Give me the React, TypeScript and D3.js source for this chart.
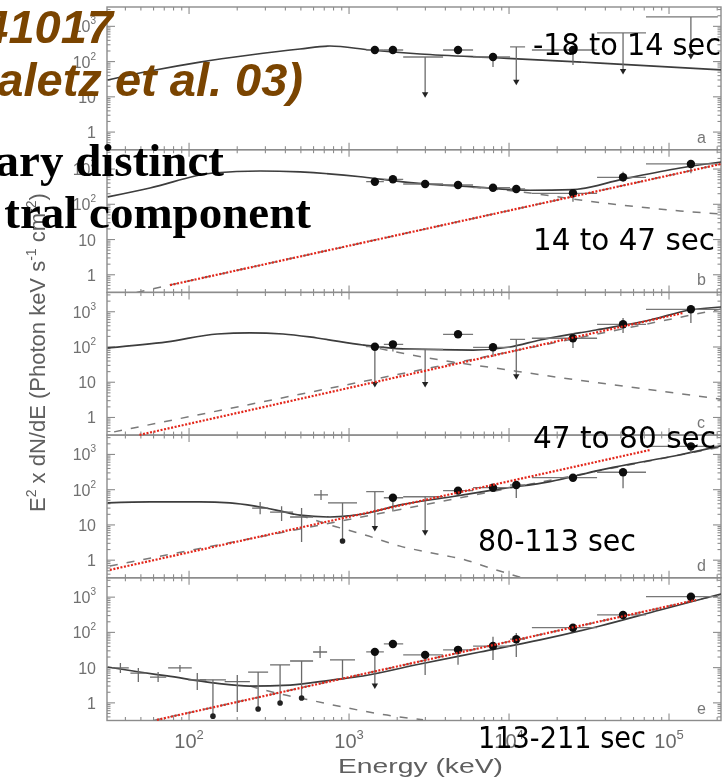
import React from "react";
import * as d3 from "d3";

type Pt = [number, number];

// Axis extents: photon energy (keV) across the frame, E^2 dN/dE from bottom to top of each panel
const energyDomain: Pt = [30.7, 211300];
const fluxDomain: Pt = [0.316, 3540];

const panelLetters = ["a", "b", "c", "d", "e"];
const intervalLabels = ["-18 to 14 sec", "14 to 47 sec", "47 to 80 sec", "80-113 sec", "113-211 sec"];

const energyTicks = [100, 1000, 10000, 100000];
const energyTickExp = ["2", "3", "4", "5"];
const fluxTicks = [1, 10, 100, 1000];
const fluxTickBase = ["1", "10", "10", "10"];
const fluxTickExp = ["", "", "2", "3"];

// TASC energy bins (keV)
const binLo = [1280, 1650, 2180, 3870, 5960, 10150, 13900, 35500, 71800];
const binHi = [1650, 2180, 3870, 5960, 10150, 12600, 35500, 71800, 202000];
const binMid = [1450, 1880, 2990, 4800, 7940, 11100, 25100, 51600, 137000];

// TASC points: [flux, lower, upper, kind]
// kind 0 = detection, 1 = upper limit (cap at flux), 2 = detection with open lower bound
const tascA = [
  [213, 180, 250, 0], [213, 180, 250, 0], [135, 11, 135, 1], [213, 180, 250, 0], [135, 70, 160, 0],
  [260, 25, 260, 1], [213, 80, 250, 0], [650, 51, 650, 1], [1850, 135, 1850, 1],
];
const tascB = [
  [438, 370, 510, 0], [512, 430, 600, 0], [377, 320, 440, 0], [353, 300, 410, 0], [296, 250, 350, 0],
  [272, 230, 320, 0], [205, 119, 240, 0], [584, 438, 841, 0], [1393, 759, 1807, 0],
];
const tascC = [
  [102, 8.4, 120, 2], [119, 75, 150, 0], [86, 8.4, 86, 1], [229, 195, 270, 0], [98, 53, 115, 0],
  [165, 13.8, 165, 1], [177, 94, 250, 0], [441, 250, 665, 0], [1175, 480, 1556, 0],
];
const tascD = [
  [88, 7.7, 88, 1], [59, 24, 70, 0], [63, 5.8, 63, 1], [94, 75, 115, 0], [114, 90, 135, 0],
  [136, 58, 160, 0], [219, 170, 260, 0], [312, 110, 405, 0], [1700, 1100, 2100, 0],
];
const tascE = [
  [28, 2.9, 34, 2], [47, 38, 56, 0], [23, 6.2, 28, 0], [32, 12, 38, 0], [41, 16.5, 75, 0],
  [64, 20, 96, 0], [136, 110, 165, 0], [312, 250, 380, 0], [1031, 800, 1250, 0],
];

// BATSE points: [eLo, eHi, flux, fluxLo, fluxHi, kind]
// kind 0 = cross, 1 = limit ending in a dot, 2 = limit without marker
const batseD = [
  [248, 312, 30, 20, 45, 0],
  [321, 447, 23, 12.9, 34, 0],
  [428, 596, 16.8, 3.3, 30, 0],
  [604, 739, 71, 51, 98, 0],
  [739, 1122, 42, 3.5, 42, 1],
];
const batseE = [
  [33, 42, 9.8, 7.0, 13.5, 0],
  [43, 54, 7.0, 3.9, 9.8, 0],
  [57, 72, 5.4, 3.9, 7.5, 0],
  [74, 104, 9.8, 7.5, 11.9, 0],
  [99, 128, 4.5, 2.3, 7.0, 0],
  [117, 170, 4.5, 0.42, 4.5, 1],
  [167, 240, 4.0, 0.55, 6.2, 0],
  [234, 312, 7.5, 0.67, 7.5, 1],
  [321, 428, 11.9, 0.99, 11.9, 1],
  [428, 596, 15.4, 1.37, 15.4, 1],
  [596, 729, 27.8, 18.8, 41, 0],
  [760, 1090, 16.5, 4.5, 16.5, 2],
];

// Total fitted model [E, E^2 dN/dE]
const modelA: Pt[] = [[31, 30], [57, 54], [117, 97], [240, 154], [494, 228], [760, 277], [1350, 213], [2780, 164], [8790, 127], [37070, 91], [211300, 58]];
const modelB: Pt[] = [[31, 161], [57, 290], [141, 773], [278, 881], [494, 826], [1223, 595], [2175, 430], [5957, 310], [13530, 250], [25120, 262], [51580, 520], [117200, 1072], [211300, 1585]];
const modelC: Pt[] = [[31, 94], [73, 139], [150, 234], [240, 250], [387, 234], [631, 180], [1223, 114], [2175, 88], [5957, 82], [10150, 100], [15630, 158], [35000, 304], [76100, 584], [135300, 1122], [211300, 1365]];
const modelD: Pt[] = [[31, 42], [57, 45], [117, 45], [180, 42], [259, 34], [370, 25], [494, 19], [760, 16.8], [1223, 20.4], [2085, 37], [4278, 62], [8790, 105], [18040, 170], [37070, 360], [65900, 600], [117200, 980], [211300, 1750]];
const modelE: Pt[] = [[31, 10.4], [49, 7.5], [73, 5.8], [141, 3.7], [240, 3.0], [428, 3.2], [794, 4.5], [1223, 5.8], [2780, 12.7], [6590, 27.8], [15630, 61], [37070, 152], [87900, 432], [211300, 1230]];

// Band-function component (dashed)
const bandB: Pt[] = [[5957, 310], [13530, 209], [25120, 141], [49430, 96], [117200, 65], [211300, 53]];
const bandC: Pt[] = [[1223, 114], [1966, 72], [3706, 43], [8290, 25], [21760, 13.2], [57070, 7.3], [211300, 3.3]];
const bandD: Pt[] = [[494, 19], [760, 10], [1259, 5.2], [2085, 2.5], [3548, 1.5], [5386, 1.0], [7607, 0.6], [12230, 0.31]];
const bandE: Pt[] = [[240, 3.0], [370, 1.8], [570, 1.2], [972, 0.72], [1728, 0.45], [2901, 0.33]];

// Power-law component (dashed)
const powerB: Pt[] = [[47, 0.316], [211300, 1393]];
const powerC: Pt[] = [[34, 0.39], [211300, 1197]];
const powerD: Pt[] = [[32, 0.68], [211300, 1630]];
const powerE: Pt[] = [[60, 0.316], [211300, 1190]];

// Highlighted hard component (red dotted)
const hardB: Pt[] = [[76, 0.51], [211300, 1393]];
const hardC: Pt[] = [[49, 0.32], [122300, 923]];
const hardD: Pt[] = [[32, 0.53], [76100, 1340]];
const hardE: Pt[] = [[63, 0.33], [147500, 830]];

const panels = [
  { tasc: tascA, batse: null, model: modelA, band: null, power: null, hard: null },
  { tasc: tascB, batse: null, model: modelB, band: bandB, power: powerB, hard: hardB },
  { tasc: tascC, batse: null, model: modelC, band: bandC, power: powerC, hard: hardC },
  { tasc: tascD, batse: batseD, model: modelD, band: bandD, power: powerD, hard: hardD },
  { tasc: tascE, batse: batseE, model: modelE, band: bandE, power: powerE, hard: hardE },
];

const X0 = 107;
const X1 = 721;
const PANEL_TOP = 7;
const PANEL_H = 142.7;

const FRAME = "#8c8c8c";
const INK = "#6a6a6a";
const FIG_FONT = "'Liberation Sans', Arial, Helvetica, sans-serif";

const x = d3.scaleLog().domain(energyDomain).range([X0, X1]);

const energyMinor: number[] = [];
for (let d = 1; d <= 5; d++)
  for (let m = 1; m <= 9; m++) {
    const v = m * Math.pow(10, d);
    if (v > energyDomain[0] && v < energyDomain[1]) energyMinor.push(v);
  }
const fluxMinor: number[] = [];
for (let d = -1; d <= 3; d++)
  for (let m = 1; m <= 9; m++) {
    const v = m * Math.pow(10, d);
    if (v > fluxDomain[0] && v < fluxDomain[1]) fluxMinor.push(v);
  }

function panelScale(i: number) {
  const top = PANEL_TOP + i * PANEL_H;
  const bottom = top + PANEL_H;
  return { top, bottom, y: d3.scaleLog().domain(fluxDomain).range([bottom, top]) };
}

function Panel({ i }: { i: number }) {
  const p = panels[i];
  const { top, bottom, y } = panelScale(i);
  const smooth = d3.line<Pt>().x((d) => x(d[0])).y((d) => y(d[1])).curve(d3.curveMonotoneX);
  const straight = d3.line<Pt>().x((d) => x(d[0])).y((d) => y(d[1]));

  return (
    <g>
      <clipPath id={`clip-${i}`}>
        <rect x={X0} y={top} width={X1 - X0} height={PANEL_H} />
      </clipPath>
      <rect x={X0} y={top} width={X1 - X0} height={PANEL_H} fill="none" stroke={FRAME} strokeWidth={1.4} />
      {energyMinor.map((v) => {
        const len = Math.abs(Math.log10(v) % 1) < 1e-6 ? 7 : 3.5;
        return (
          <g key={`xt${v}`} stroke={FRAME} strokeWidth={1.1}>
            <line x1={x(v)} x2={x(v)} y1={top} y2={top + len} />
            <line x1={x(v)} x2={x(v)} y1={bottom} y2={bottom - len} />
          </g>
        );
      })}
      {fluxMinor.map((v) => {
        const len = Math.abs(Math.log10(v) % 1) < 1e-6 ? 8 : 3.5;
        return (
          <g key={`yt${v}`} stroke={FRAME} strokeWidth={1.1}>
            <line x1={X0} x2={X0 + len} y1={y(v)} y2={y(v)} />
            <line x1={X1} x2={X1 - len} y1={y(v)} y2={y(v)} />
          </g>
        );
      })}
      {fluxTicks.map((v, k) => (
        <text key={`yl${v}`} x={96} y={y(v) + 6} textAnchor="end" fontSize={16} fill="#707070" fontFamily={FIG_FONT}>
          {fluxTickBase[k]}
          {fluxTickExp[k] && (
            <tspan fontSize={10} dy={-8}>
              {fluxTickExp[k]}
            </tspan>
          )}
        </text>
      ))}
      <text x={697} y={bottom - 7} fontSize={16} fill="#777" fontFamily={FIG_FONT}>
        {panelLetters[i]}
      </text>

      <g clipPath={`url(#clip-${i})`}>
        {p.power && (
          <path d={straight(p.power) || ""} fill="none" stroke="#7a7a7a" strokeWidth={1.5} strokeDasharray="8,9" />
        )}
        {p.band && (
          <path d={smooth(p.band) || ""} fill="none" stroke="#7a7a7a" strokeWidth={1.5} strokeDasharray="8,9" />
        )}
        <path d={smooth(p.model) || ""} fill="none" stroke="#3c3c3c" strokeWidth={1.7} />

        {p.batse &&
          p.batse.map((b, k) => {
            const [eLo, eHi, f, fLo, fHi, kind] = b;
            const cx = x(Math.sqrt(eLo * eHi));
            return (
              <g key={`b${k}`} stroke={INK} strokeWidth={1.3}>
                <line x1={x(eLo)} x2={x(eHi)} y1={y(f)} y2={y(f)} />
                <line x1={cx} x2={cx} y1={y(fHi)} y2={y(fLo)} />
                {kind === 1 && <circle cx={cx} cy={y(fLo)} r={2.8} fill="#222" stroke="none" />}
              </g>
            );
          })}

        {p.tasc.map((t, j) => {
          const [f, lo, hi, kind] = t;
          const cx = x(binMid[j]);
          const yl = y(lo);
          return (
            <g key={`t${j}`}>
              <line x1={x(binLo[j])} x2={x(binHi[j])} y1={y(f)} y2={y(f)} stroke="#777" strokeWidth={1.3} />
              <line x1={cx} x2={cx} y1={y(hi)} y2={yl} stroke={INK} strokeWidth={1.3} />
              {kind !== 1 && <circle cx={cx} cy={y(f)} r={4.2} fill="#111" />}
              {kind !== 0 && (
                <path d={`M${cx - 3.2},${yl - 3}L${cx + 3.2},${yl - 3}L${cx},${yl + 2.5}Z`} fill="#222" />
              )}
            </g>
          );
        })}
      </g>
    </g>
  );
}

export default function App() {
  const bottomAxis = panelScale(4).bottom;
  return (
    <svg
      width={726}
      height={782}
      viewBox="0 0 726 782"
      style={{ position: "absolute", left: 0, top: 0, background: "#fff" }}
    >
      <defs>
        <filter id="soft" x="-5%" y="-5%" width="110%" height="110%">
          <feGaussianBlur stdDeviation={0.75} />
        </filter>
      </defs>
      <rect width={726} height={782} fill="#fff" />

      <g filter="url(#soft)">
        {panels.map((_, i) => (
          <Panel key={i} i={i} />
        ))}
        {energyTicks.map((v, k) => (
          <text key={`xl${v}`} x={x(v)} y={bottomAxis + 27} textAnchor="middle" fontSize={20} fill="#6a6a6a" fontFamily={FIG_FONT}>
            10
            <tspan fontSize={13} dy={-9}>
              {energyTickExp[k]}
            </tspan>
          </text>
        ))}
        <text x={338} y={773} fontSize={21} fill="#5e5e5e" fontFamily={FIG_FONT} textLength={165} lengthAdjust="spacingAndGlyphs">
          Energy (keV)
        </text>
        <text transform="translate(45,512) rotate(-90)" fontSize={22} fill="#5e5e5e" fontFamily={FIG_FONT}>
          E<tspan fontSize={14} dy={-9}>2</tspan>
          <tspan dy={9}> x dN/dE (Photon keV s</tspan>
          <tspan fontSize={14} dy={-9}>-1</tspan>
          <tspan dy={9}> cm</tspan>
          <tspan fontSize={14} dy={-9}>-2</tspan>
          <tspan dy={9}>)</tspan>
        </text>
      </g>

      {panels.map((p, i) => {
        if (!p.hard) return null;
        const { y } = panelScale(i);
        const guide = d3.line<Pt>().x((d) => x(d[0])).y((d) => y(d[1]));
        return (
          <path key={`h${i}`} d={guide(p.hard) || ""} fill="none" stroke="#e3261a" strokeWidth={2.2} strokeDasharray="2,1.6" />
        );
      })}

      <g fontFamily="'Liberation Sans', Arial, sans-serif" fontWeight="bold" fontStyle="italic" fontSize={47} fill="#7a4400">
        <text x={113} y={43} textAnchor="end">41017</text>
        <text x={303} y={96} textAnchor="end">aletz et al. 03)</text>
      </g>
      <g fontFamily="'Liberation Serif', 'Times New Roman', serif" fontWeight="bold" fontSize={47} fill="#000">
        <text x={224} y={176} textAnchor="end">ary distinct</text>
        <text x={311} y={228} textAnchor="end">tral component</text>
      </g>
      <g fontFamily="'Comic Sans MS', 'DejaVu Sans', sans-serif" fontSize={30} fill="#000">
        <text x={533} y={55} textLength={188} lengthAdjust="spacingAndGlyphs">{intervalLabels[0]}</text>
        <text x={533} y={250} textLength={182} lengthAdjust="spacingAndGlyphs">{intervalLabels[1]}</text>
        <text x={533} y={448} textLength={183} lengthAdjust="spacingAndGlyphs">{intervalLabels[2]}</text>
        <text x={478} y={551} textLength={158} lengthAdjust="spacingAndGlyphs">{intervalLabels[3]}</text>
        <text x={478} y={748} textLength={168} lengthAdjust="spacingAndGlyphs">{intervalLabels[4]}</text>
      </g>
    </svg>
  );
}
